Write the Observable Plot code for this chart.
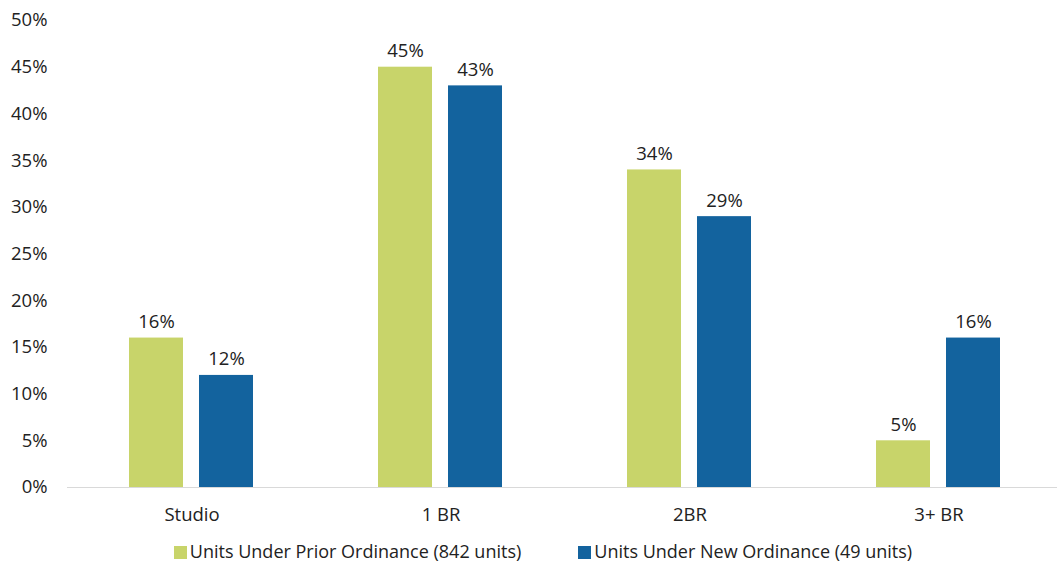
<!DOCTYPE html>
<html>
<head>
<meta charset="utf-8">
<script src="https://cdn.jsdelivr.net/npm/d3@7"></script>
<script src="https://cdn.jsdelivr.net/npm/@observablehq/plot@0.6"></script>
<style>
  html, body { margin: 0; padding: 0; background: #fff; overflow: hidden; }
  body { font-family: "Open Sans", sans-serif; }
  #legend { display: flex; justify-content: center; gap: 57px; font-size: 18px; line-height: 24px; color: #222; margin-top: 4px; padding-left: 29px; }
  #legend span.sw { display: inline-block; width: 13px; height: 13px; margin-right: 3px; vertical-align: -1px; }
</style>
</head>
<body>
<div id="chart"></div>
<div id="legend"></div>
<script>
const categories = ["Studio", "1 BR", "2BR", "3+ BR"];
const seriesNames = ["Units Under Prior Ordinance (842 units)", "Units Under New Ordinance (49 units)"];
const priorValues = [16, 45, 34, 5];
const newValues = [12, 43, 29, 16];
const yTicks = [0, 5, 10, 15, 20, 25, 30, 35, 40, 45, 50];
const colors = ["#C8D46A", "#13639E"];

const data = [];
categories.forEach((c, i) => {
  data.push({cat: c, series: seriesNames[0], value: priorValues[i]});
  data.push({cat: c, series: seriesNames[1], value: newValues[i]});
});

const chart = Plot.plot({
  width: 1057,
  height: 535,
  marginTop: 20,
  marginBottom: 48,
  marginLeft: 66,
  marginRight: -6,
  style: {fontFamily: "'Open Sans', sans-serif", fontSize: "18.5px", color: "#222", overflow: "hidden"},
  fx: {domain: categories, padding: 0, label: null, axis: "bottom", tickSize: 0, tickPadding: 20},
  x: {domain: seriesNames, axis: null, paddingInner: 0.225, paddingOuter: 0.868},
  y: {domain: [0, 50], ticks: yTicks, tickFormat: d => d + "%", tickSize: 0, tickPadding: 20, label: null},
  color: {domain: seriesNames, range: colors},
  marks: [
    Plot.barY(data, {fx: "cat", x: "series", y: "value", fill: "series"}),
    Plot.ruleY([0], {stroke: "#d9d9d9", strokeWidth: 1}),
    Plot.text(data, {fx: "cat", x: "series", y: "value", text: d => d.value + "%", dy: -16, fontSize: 18.5, fill: "#222"})
  ]
});
document.getElementById("chart").appendChild(chart);

const legend = document.getElementById("legend");
seriesNames.forEach((s, i) => {
  const item = document.createElement("div");
  const sw = document.createElement("span");
  sw.className = "sw";
  sw.style.background = colors[i];
  item.appendChild(sw);
  item.appendChild(document.createTextNode(s));
  legend.appendChild(item);
});
</script>
</body>
</html>
